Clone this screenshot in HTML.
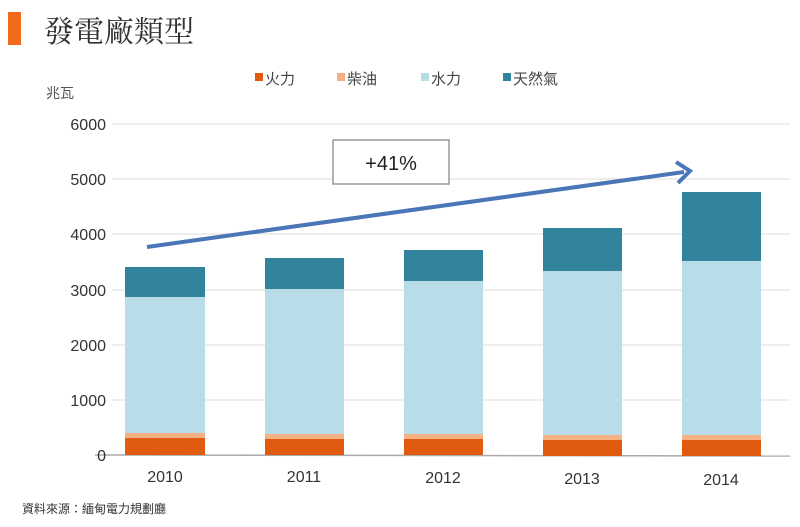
<!DOCTYPE html><html><head><meta charset="utf-8"><style>
body{margin:0;background:#fff;width:800px;height:522px;overflow:hidden;font-family:"Liberation Sans","Noto Sans CJK TC",sans-serif}
</style></head><body>
<svg width="800" height="522" xmlns="http://www.w3.org/2000/svg" font-family="Liberation Sans, Noto Sans CJK TC, sans-serif">
<rect x="8" y="12" width="13" height="33" fill="#f26b1d"/>
<text x="44" y="42" font-size="30" font-family="Noto Serif CJK TC, Noto Serif CJK SC, serif" fill="#333">發電廠類型</text>
<text x="46" y="98" font-size="14" fill="#555">兆瓦</text>
<g font-size="15" fill="#444">
<rect x="255" y="73" width="8" height="8" fill="#e05a0f"/><text x="265" y="84">火力</text>
<rect x="337" y="73" width="8" height="8" fill="#f4b183"/><text x="347" y="84">柴油</text>
<rect x="421" y="73" width="8" height="8" fill="#b8dde8"/><text x="431" y="84">水力</text>
<rect x="503" y="73" width="8" height="8" fill="#31849b"/><text x="513" y="84">天然氣</text>
</g>
<g stroke="#ddd" stroke-width="1">
<line x1="112" y1="124" x2="790" y2="124"/><line x1="112" y1="179" x2="790" y2="179"/><line x1="112" y1="234" x2="790" y2="234"/><line x1="112" y1="290" x2="790" y2="290"/><line x1="112" y1="345" x2="790" y2="345"/><line x1="112" y1="400" x2="790" y2="400"/>
</g>
<line x1="95" y1="455" x2="790" y2="456" stroke="#aaa" stroke-width="1.5"/>
<g font-size="16" fill="#333" text-anchor="end">
<text x="106" y="130">6000</text><text x="106" y="185">5000</text><text x="106" y="240">4000</text><text x="106" y="296">3000</text><text x="106" y="351">2000</text><text x="106" y="406">1000</text><text x="106" y="461">0</text>
</g>
<g>
<rect x="125" y="267" width="80" height="30" fill="#31849b"/><rect x="125" y="297" width="80" height="136" fill="#b8dde8"/><rect x="125" y="433" width="80" height="5" fill="#f4b183"/><rect x="125" y="438" width="80" height="17" fill="#e05a0f"/>
<rect x="265" y="258" width="79" height="31" fill="#31849b"/><rect x="265" y="289" width="79" height="145" fill="#b8dde8"/><rect x="265" y="434" width="79" height="5" fill="#f4b183"/><rect x="265" y="439" width="79" height="16" fill="#e05a0f"/>
<rect x="404" y="250" width="79" height="31" fill="#31849b"/><rect x="404" y="281" width="79" height="153" fill="#b8dde8"/><rect x="404" y="434" width="79" height="5" fill="#f4b183"/><rect x="404" y="439" width="79" height="16" fill="#e05a0f"/>
<rect x="543" y="228" width="79" height="43" fill="#31849b"/><rect x="543" y="271" width="79" height="164" fill="#b8dde8"/><rect x="543" y="435" width="79" height="5" fill="#f4b183"/><rect x="543" y="440" width="79" height="16" fill="#e05a0f"/>
<rect x="682" y="192" width="79" height="69" fill="#31849b"/><rect x="682" y="261" width="79" height="174" fill="#b8dde8"/><rect x="682" y="435" width="79" height="5" fill="#f4b183"/><rect x="682" y="440" width="79" height="16" fill="#e05a0f"/>
</g>
<g font-size="16" fill="#333" text-anchor="middle">
<text x="165" y="482">2010</text><text x="304" y="482">2011</text><text x="443" y="483">2012</text><text x="582" y="484">2013</text><text x="721" y="485">2014</text>
</g>
<text x="22" y="513" font-size="12" fill="#333">資料來源：緬甸電力規劃廳</text>
<line x1="147" y1="247" x2="684" y2="172" stroke="#4a76b8" stroke-width="4"/>
<polyline points="676,162 690,171 678,183" fill="none" stroke="#4a76b8" stroke-width="4"/>
<rect x="333" y="140" width="116" height="44" fill="#fff" stroke="#999" stroke-width="1.5"/>
<text x="391" y="170" font-size="20" fill="#222" text-anchor="middle">+41%</text>
</svg>
</body></html>
